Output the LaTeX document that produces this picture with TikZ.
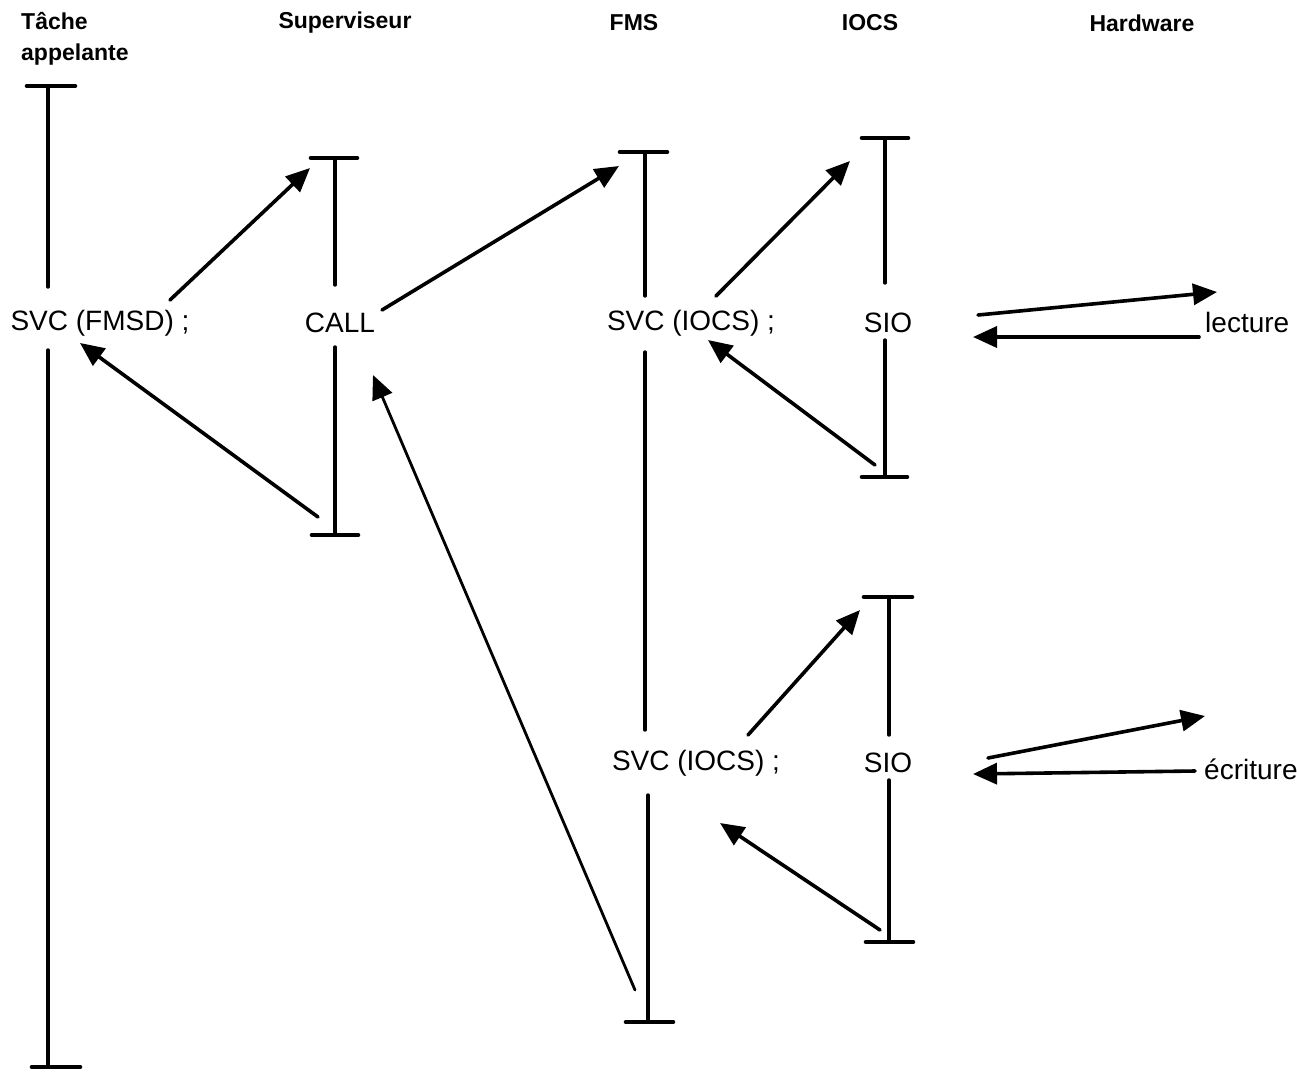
\documentclass[tikz,border=0pt]{standalone}
\usepackage{fontspec}
\setmainfont{Liberation Sans}
\usetikzlibrary{arrows.meta}
\tikzset{
  life/.style={line width=3.4pt, line cap=round},
  bar/.style={line width=4.6pt, line cap=round},
  msg/.style={line width=3.6pt, line cap=round, -{Triangle[length=24pt,width=21pt]}},
  lbl/.style={inner sep=0pt, font=\fontsize{28}{32}\selectfont},
  hdr/.style={inner sep=0pt, font=\fontsize{23}{31}\selectfont\bfseries, align=left}
}
\begin{document}
\begin{tikzpicture}[x=1pt,y=-1pt]
\useasboundingbox (0,0) rectangle (1297,1071);
\clip (0,0) rectangle (1297,1071);
% headers
\node[hdr, anchor=north west] (hT) at (21,12) {Tâche\\appelante};
\node[hdr] (hS) at (345,23) {Superviseur};
\node[hdr] (hF) at (634,23) {FMS};
\node[hdr] (hI) at (870,23) {IOCS};
\node[hdr] (hH) at (1142,23) {Hardware};
% labels
\node[lbl] (svcF) at (100,323) {SVC (FMSD) ;};
\node[lbl] (call) at (340,323) {CALL};
\node[lbl] (svcA) at (691,323) {SVC (IOCS) ;};
\node[lbl] (sioA) at (888,323) {SIO};
\node[lbl] (svcB) at (696,763) {SVC (IOCS) ;};
\node[lbl] (sioB) at (888,763) {SIO};
\node[lbl, anchor=west] (lect) at (1205,322) {lecture};
\node[lbl, anchor=west] (ecr) at (1204,769) {écriture};
% lifeline coordinates
\coordinate (T0) at (48,86);   \coordinate (T1) at (48,287);
\coordinate (T2) at (48,350);  \coordinate (T3) at (48,1067);
\coordinate (S0) at (335,158); \coordinate (S1) at (335,285);
\coordinate (S2) at (335,347); \coordinate (S3) at (335,535);
\coordinate (F0) at (645,152); \coordinate (F1) at (645,296);
\coordinate (F2) at (645,352); \coordinate (F3) at (645,730);
\coordinate (F4) at (648,795); \coordinate (F5) at (648,1022);
\coordinate (A0) at (885,138); \coordinate (A1) at (885,283);
\coordinate (A2) at (885,340); \coordinate (A3) at (885,477);
\coordinate (B0) at (889,597); \coordinate (B1) at (889,735);
\coordinate (B2) at (889,780); \coordinate (B3) at (889,942);
% lifelines
\draw[life] (T0) -- (T1); \draw[life] (T2) -- (T3);
\draw[life] (S0) -- (S1); \draw[life] (S2) -- (S3);
\draw[life] (F0) -- (F1); \draw[life] (F2) -- (F3); \draw[life] (F4) -- (F5);
\draw[life] (A0) -- (A1); \draw[life] (A2) -- (A3);
\draw[life] (B0) -- (B1); \draw[life] (B2) -- (B3);
% bars
\draw[bar] ([xshift=-21pt]T0) -- ([xshift=27pt]T0);
\draw[bar] ([xshift=-16pt]T3) -- ([xshift=32pt]T3);
\draw[bar] ([xshift=-24pt]S0) -- ([xshift=22pt]S0);
\draw[bar] ([xshift=-23pt]S3) -- ([xshift=23pt]S3);
\draw[bar] ([xshift=-25pt]F0) -- ([xshift=22pt]F0);
\draw[bar] ([xshift=-22pt]F5) -- ([xshift=25pt]F5);
\draw[bar] ([xshift=-23pt]A0) -- ([xshift=23pt]A0);
\draw[bar] ([xshift=-23pt]A3) -- ([xshift=22pt]A3);
\draw[bar] ([xshift=-25pt]B0) -- ([xshift=23pt]B0);
\draw[bar] ([xshift=-23pt]B3) -- ([xshift=24pt]B3);
% message endpoints
\coordinate (m1a) at (170,300); \coordinate (m1b) at (310,168);
\coordinate (m2a) at (318,517); \coordinate (m2b) at (80,343);
\coordinate (m3a) at (382,310); \coordinate (m3b) at (619,166);
\coordinate (m4a) at (635,990); \coordinate (m4b) at (373,375);
\coordinate (m5a) at (716,296); \coordinate (m5b) at (850,161);
\coordinate (m6a) at (875,465); \coordinate (m6b) at (708,340);
\coordinate (m7a) at (978,315); \coordinate (m7b) at (1217,292);
\coordinate (m8a) at (1199,337); \coordinate (m8b) at (973,337);
\coordinate (m9a) at (748,735); \coordinate (m9b) at (860,610);
\coordinate (m10a) at (880,930); \coordinate (m10b) at (720,823);
\coordinate (m11a) at (988,758); \coordinate (m11b) at (1205,716);
\coordinate (m12a) at (1195,771); \coordinate (m12b) at (973,774);
% messages
\draw[msg] (m1a) -- (m1b);
\draw[msg] (m2a) -- (m2b);
\draw[msg] (m3a) -- (m3b);
\draw[msg, line width=2.8pt] (m4a) -- (m4b);
\draw[msg] (m5a) -- (m5b);
\draw[msg] (m6a) -- (m6b);
\draw[msg] (m7a) -- (m7b);
\draw[msg] (m8a) -- (m8b);
\draw[msg] (m9a) -- (m9b);
\draw[msg] (m10a) -- (m10b);
\draw[msg] (m11a) -- (m11b);
\draw[msg] (m12a) -- (m12b);
\end{tikzpicture}
\end{document}
